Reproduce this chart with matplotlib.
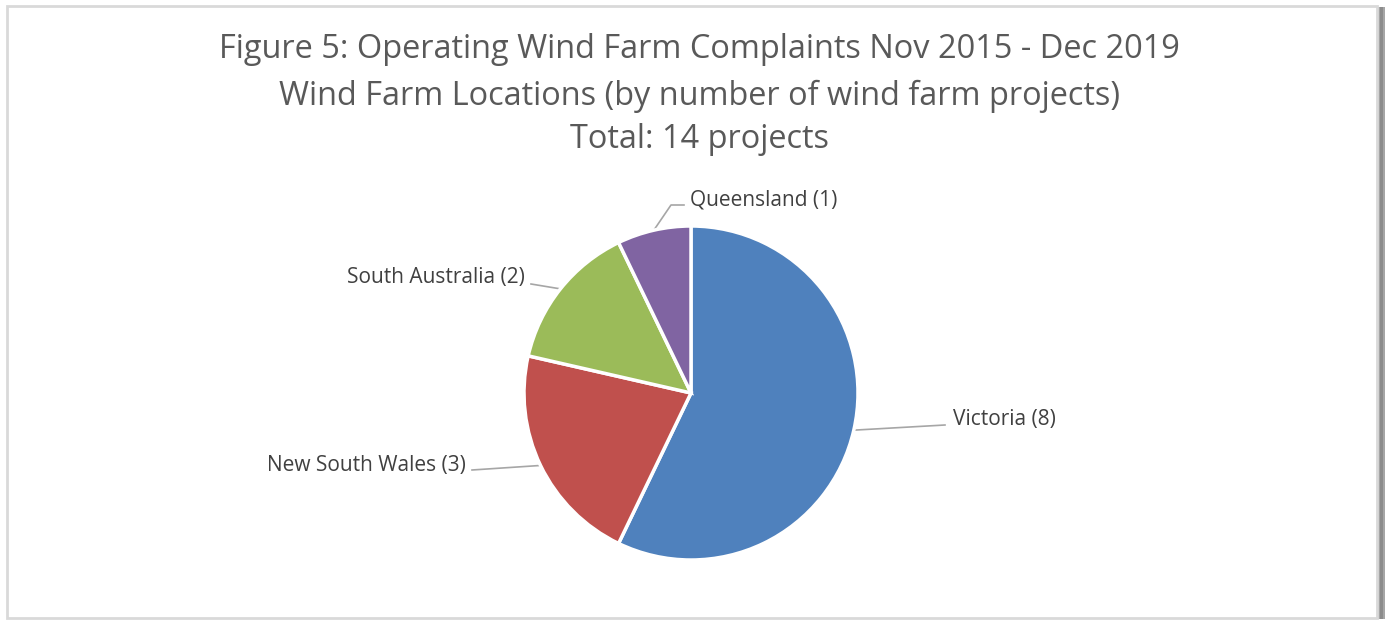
import numpy as np
import matplotlib
matplotlib.use("Agg")
import matplotlib.pyplot as plt
from matplotlib.patches import Rectangle

plt.rcParams["font.family"] = ["Open Sans", "DejaVu Sans"]

states = ["Victoria", "New South Wales", "South Australia", "Queensland"]
projects = [8, 3, 2, 1]
colors = ["#4F81BD", "#C0504D", "#9BBB59", "#8064A2"]
title_lines = [
    "Figure 5: Operating Wind Farm Complaints Nov 2015 - Dec 2019",
    "Wind Farm Locations (by number of wind farm projects)",
    "Total: 14 projects",
]

W, H = 1385, 621
fig = plt.figure(figsize=(W / 100, H / 100), dpi=100)
ax = fig.add_axes([0, 0, 1, 1])

# chart frame + right shadow
ax.add_patch(Rectangle((1377, 2), 8, 612, color="#a6a6a6", lw=0, zorder=0))
ax.add_patch(Rectangle((1380, 2), 3, 612, color="#8c8c8c", lw=0, zorder=0))
ax.add_patch(Rectangle((7, 3), 1370, 612, fc="white", ec="#d9d9d9", lw=2, zorder=1))

cx, cy, r = 691, H - 393, 167
wedges, _ = ax.pie(projects, colors=colors, startangle=90, counterclock=False,
                   center=(cx, cy), radius=r, frame=True,
                   wedgeprops=dict(edgecolor="white", linewidth=2.5))
ax.set_xlim(0, W)
ax.set_ylim(0, H)
ax.set_aspect("equal")
ax.axis("off")
for w in wedges:
    w.set_zorder(3)

# leader lines start at wedge edge midpoint
text_pos = [(953, 419, "left"), (466, 466, "right"), (525, 277, "right"), (690, 200, "left")]
elbow = [(945, 425), (472, 470), (531, 284), (684, 205)]
for w, name, n, (tx, ty, ha), (ex, ey) in zip(wedges, states, projects, text_pos, elbow):
    mid = np.deg2rad((w.theta1 + w.theta2) / 2)
    px, py = cx + r * np.cos(mid), cy + r * np.sin(mid)
    if name == "Queensland":
        xs = [px, 671, ex]
        ys = [py, H - 205, H - ey]
    else:
        xs = [px, ex]
        ys = [py, H - ey]
    ax.plot(xs, ys, color="#a6a6a6", lw=1.2, zorder=2)
    ax.text(tx, H - ty, f"{name} ({n})", ha=ha, va="center",
            fontsize=15, color="#404040", zorder=4)

for line, y in zip(title_lines, [49, 96, 140]):
    ax.text(W / 2 + 7, H - y, line, ha="center", va="center",
            fontsize=23.4, color="#595959", zorder=4)

fig.savefig("out.png", dpi=100)
